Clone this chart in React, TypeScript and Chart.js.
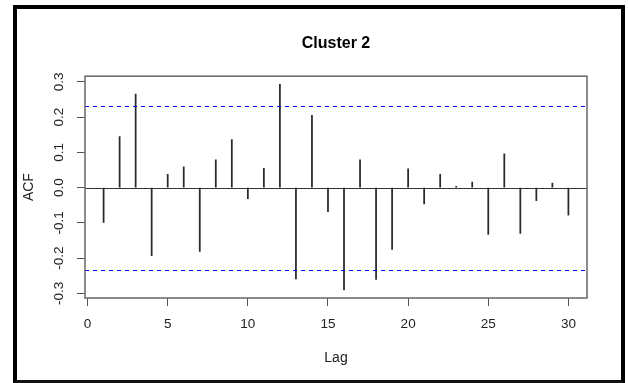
import React, { useEffect, useRef } from "react";
import { Chart, registerables } from "chart.js";

Chart.register(...registerables);

const TITLE = "Cluster 2";
const X_LABEL = "Lag";
const Y_LABEL = "ACF";

const LAGS = [1, 2, 3, 4, 5, 6, 7, 8, 9, 10, 11, 12, 13, 14, 15, 16, 17, 18, 19, 20, 21, 22, 23, 24, 25, 26, 27, 28, 29, 30];
const ACF = [
  -0.099, 0.145, 0.265, -0.193, 0.038, 0.059, -0.181, 0.079, 0.136, -0.031,
  0.055, 0.293, -0.259, 0.205, -0.068, -0.29, 0.079, -0.26, -0.175, 0.053,
  -0.046, 0.038, 0.004, 0.016, -0.133, 0.096, -0.13, -0.037, 0.013, -0.078,
];
const CLIM = 0.232;
const CLIM_LINES = [CLIM, -CLIM];

const X_TICKS = [0, 5, 10, 15, 20, 25, 30];
const Y_TICKS = [-0.3, -0.2, -0.1, 0.0, 0.1, 0.2, 0.3];
const X_MIN = -0.16;
const X_MAX = 31.16;
const Y_MIN = -0.313;
const Y_MAX = 0.316;

const FONT = "'Liberation Sans', Arial, Helvetica, sans-serif";

const refPlugin = {
  id: "rbox",
  afterDatasetsDraw(chart: any) {
    const { ctx, chartArea } = chart;
    const ys = chart.scales.y;
    ctx.save();
    // zero line
    const y0 = Math.round(ys.getPixelForValue(0)) + 0.5;
    ctx.strokeStyle = "#333";
    ctx.lineWidth = 1;
    ctx.beginPath();
    ctx.moveTo(chartArea.left, y0);
    ctx.lineTo(chartArea.right, y0);
    ctx.stroke();
    // confidence lines
    ctx.strokeStyle = "rgb(0,0,255)";
    ctx.lineWidth = 1.2;
    ctx.setLineDash([4, 4]);
    CLIM_LINES.forEach((c) => {
      const y = Math.ceil(ys.getPixelForValue(c)) + 0.5;
      ctx.beginPath();
      ctx.moveTo(chartArea.left, y);
      ctx.lineTo(chartArea.right, y);
      ctx.stroke();
    });
    ctx.setLineDash([]);
    // box
    ctx.strokeStyle = "#707070";
    ctx.lineWidth = 1.6;
    ctx.strokeRect(chartArea.left, chartArea.top, chartArea.right - chartArea.left, chartArea.bottom - chartArea.top);
    ctx.restore();
  },
};

export default function App() {
  const ref = useRef<HTMLCanvasElement | null>(null);

  useEffect(() => {
    if (!ref.current) return;
    const chart = new Chart(ref.current, {
      type: "bar",
      data: {
        datasets: [
          {
            type: "bar",
            data: LAGS.map((l, i) => ({ x: l, y: ACF[i] })),
            backgroundColor: "#2a2a2a",
            borderWidth: 0,
            barThickness: 1.1,
            grouped: false,
          },
        ],
      } as any,
      options: {
        responsive: false,
        animation: false,
        devicePixelRatio: 1,
        layout: { padding: { left: 21, right: 41, top: 0, bottom: 16 } },
        plugins: {
          legend: { display: false },
          tooltip: { enabled: false },
          title: {
            display: true,
            text: TITLE,
            fullSize: false,
            color: "#000",
            font: { family: FONT, size: 16, weight: "bold", lineHeight: 1.2 },
            padding: { top: 34, bottom: 23 },
          },
        },
        scales: {
          x: {
            type: "linear",
            min: X_MIN,
            max: X_MAX,
            offset: false,
            afterBuildTicks: (s: any) => {
              s.ticks = X_TICKS.map((v) => ({ value: v }));
            },
            afterFit: (s: any) => {
              s.height = 69;
            },
            ticks: {
              color: "#222",
              font: { family: FONT, size: 13.5 },
              padding: 10,
              maxRotation: 0,
              minRotation: 0,
              autoSkip: false,
              callback: (v: any) => String(v),
            },
            grid: {
              drawOnChartArea: false,
              drawTicks: true,
              tickLength: 8,
              color: "#555",
              offset: false,
            },
            border: { display: false },
            title: {
              display: true,
              text: X_LABEL,
              color: "#222",
              font: { family: FONT, size: 14, lineHeight: 1.2 },
              padding: 0,
            },
          },
          y: {
            type: "linear",
            min: Y_MIN,
            max: Y_MAX,
            afterBuildTicks: (s: any) => {
              s.ticks = Y_TICKS.map((v) => ({ value: v }));
            },
            afterFit: (s: any) => {
              s.width = 64;
            },
            ticks: {
              color: "#222",
              font: { family: FONT, size: 13.5 },
              padding: 6,
              minRotation: 90,
              maxRotation: 90,
              crossAlign: "center",
              autoSkip: false,
              callback: (v: any) => Number(v).toFixed(1),
            },
            grid: {
              drawOnChartArea: false,
              drawTicks: true,
              tickLength: 8,
              color: "#555",
            },
            border: { display: false },
            title: {
              display: true,
              text: Y_LABEL,
              color: "#222",
              font: { family: FONT, size: 14, lineHeight: 1.2 },
              padding: 0,
            },
          },
        },
      } as any,
      plugins: [refPlugin],
    });
    return () => chart.destroy();
  }, []);

  return (
    <div style={{ position: "absolute", left: 0, top: 0, width: 628, height: 383, background: "#fff" }}>
      <canvas ref={ref} width={628} height={383} style={{ position: "absolute", left: 0, top: 0, width: 628, height: 383 }} />
      <div
        style={{
          position: "absolute",
          left: 13,
          top: 5,
          width: 612,
          height: 378,
          boxSizing: "border-box",
          borderTop: "4px solid #000",
          borderLeft: "4px solid #000",
          borderRight: "4px solid #000",
          borderBottom: "3px solid #111",
          pointerEvents: "none",
        }}
      />
    </div>
  );
}
